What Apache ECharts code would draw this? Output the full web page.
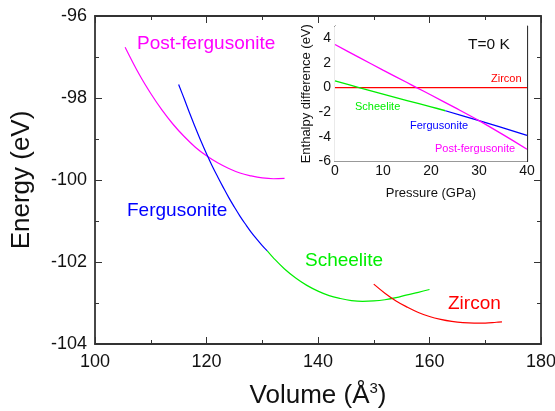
<!DOCTYPE html>
<html>
<head>
<meta charset="utf-8">
<script src="https://cdn.jsdelivr.net/npm/echarts@6/dist/echarts.min.js"></script>
<style>html,body{margin:0;padding:0;background:#fff}#c{width:555px;height:411px}</style>
</head>
<body>
<div id="c"></div>
<script>
// ---- main plot: E(V) curves ----
const postFergV = [105.4,108,110,112,114,116,118,120,122,124,126,128,130,132,134];
const postFergE = [-96.76,-97.44,-97.89,-98.29,-98.64,-98.94,-99.20,-99.41,-99.58,-99.72,-99.83,-99.90,-99.95,-99.97,-99.96];
const fergV = [115,116,117,118,119,120,121,122,123,124,125,126,127,128,129,130,130.9];
const fergE = [-97.67,-98.02,-98.38,-98.72,-99.05,-99.36,-99.65,-99.92,-100.18,-100.43,-100.66,-100.88,-101.08,-101.27,-101.44,-101.60,-101.73];
const schV = [130.9,132,134,136,138,140,142,144,146,148,150,152,154,156,158,160];
const schE = [-101.73,-101.90,-102.17,-102.39,-102.57,-102.71,-102.82,-102.89,-102.94,-102.96,-102.95,-102.92,-102.87,-102.80,-102.74,-102.67];
const zirV = [150,152,154,156,158,160,162,164,166,168,170,172,173];
const zirE = [-102.54,-102.76,-102.95,-103.10,-103.23,-103.33,-103.40,-103.45,-103.48,-103.49,-103.49,-103.47,-103.46];

// ---- inset: enthalpy difference vs pressure ----
const inZirP = [0,40];
const inZirH = [0,0];
const inPostP = [0,5,10,15,17,20,25,30,35,40];
const inPostH = [3.5,2.45,1.42,0.41,0,-0.6,-1.63,-2.68,-3.82,-5.0];
const inSchP = [0,5,10,15,20,23];
const inSchH = [0.54,0,-0.53,-1.05,-1.56,-1.88];
const inFergP = [23,30,40];
const inFergH = [-1.88,-2.68,-3.88];

const mainXTicks = [100,120,140,160,180];
const mainYTicks = [-104,-102,-100,-98,-96];
const insetXTicks = [0,10,20,30,40];
const insetYTicks = [-6,-4,-2,0,2,4];

const C = {mag:'#ff00ff', blue:'#0000ff', green:'#00ee00', red:'#ff0000'};
const FONT = 'Liberation Sans, Arial, sans-serif';
const zip = (a,b)=>a.map((v,i)=>[v,b[i]]);

const axisCommon = (fs, ml, mnl, lw) => ({
  axisLine:{show:true, onZero:false, lineStyle:{color:'#333', width:lw}},
  axisTick:{show:true, inside:true, length:ml, lineStyle:{color:'#333', width:1}},
  minorTick:{show:true, splitNumber:2, length:mnl, lineStyle:{color:'#333', width:1}},
  splitLine:{show:false},
  axisLabel:{color:'#111', fontSize:fs, fontFamily:FONT}
});

function ax(type, grid, min, max, interval, fs, ml, mnl, lw, pos, showLabel, extra){
  const a = Object.assign({type:'value', gridIndex:grid, min, max, interval, position:pos}, axisCommon(fs, ml, mnl, lw), extra||{});
  if(!showLabel) a.axisLabel = {show:false};
  return a;
}

const option = {
  animation:false,
  backgroundColor:'#fff',
  grid:[
    {left:95, right:14, top:16, bottom:67, outerBoundsMode:'none', containLabel:false},
    {left:335, right:28, top:26, bottom:249.5, outerBoundsMode:'none', containLabel:false, show:true, backgroundColor:'#fff', borderWidth:0, z:5}
  ],
  xAxis:[
    ax('x',0,mainXTicks[0],mainXTicks[mainXTicks.length-1],20,18,7,4,1.8,'bottom',true,{
      name:'Volume (Å{sup|3})', nameLocation:'middle', nameGap:37,
      nameTextStyle:{fontSize:26, fontFamily:FONT, color:'#111',
        rich:{sup:{fontSize:15, fontFamily:FONT, color:'#111', padding:[0,0,14,0]}}},
      axisLabel:{color:'#111', fontSize:18, fontFamily:FONT, margin:9}
    }),
    ax('x',0,mainXTicks[0],mainXTicks[mainXTicks.length-1],20,18,7,4,1.8,'top',false),
    ax('x',1,insetXTicks[0],insetXTicks[insetXTicks.length-1],10,14,5,3,1.2,'bottom',true,{
      name:'Pressure (GPa)', nameLocation:'middle', nameGap:25,
      nameTextStyle:{fontSize:13, fontFamily:FONT, color:'#111'},
      axisLabel:{color:'#111', fontSize:14, fontFamily:FONT, margin:3}
    }),
    ax('x',1,insetXTicks[0],insetXTicks[insetXTicks.length-1],10,14,5,3,1.2,'top',false)
  ],
  yAxis:[
    ax('y',0,mainYTicks[0],mainYTicks[mainYTicks.length-1],2,18,7,4,1.8,'left',true,{
      name:'Energy (eV)', nameLocation:'middle', nameGap:60,
      nameTextStyle:{fontSize:26, fontFamily:FONT, color:'#111'},
      axisLabel:{color:'#111', fontSize:18, fontFamily:FONT, margin:8}
    }),
    ax('y',0,mainYTicks[0],mainYTicks[mainYTicks.length-1],2,18,7,4,1.8,'right',false),
    ax('y',1,insetYTicks[0],5,2,14,5,3,1.2,'left',true,{
      name:'Enthalpy difference (eV)', nameLocation:'middle', nameGap:22,
      nameTextStyle:{fontSize:13, fontFamily:FONT, color:'#111'},
      axisLabel:{color:'#111', fontSize:14, fontFamily:FONT, margin:4,
        formatter:v=> insetYTicks.indexOf(v)>=0 ? String(v) : ''}
    }),
    ax('y',1,insetYTicks[0],5,2,14,5,3,1.2,'right',false)
  ],
  series:[
    {type:'line', xAxisIndex:0, yAxisIndex:0, data:zip(postFergV,postFergE), showSymbol:false, smooth:0.4, lineStyle:{color:C.mag, width:1.2}},
    {type:'line', xAxisIndex:0, yAxisIndex:0, data:zip(fergV,fergE), showSymbol:false, smooth:0.4, lineStyle:{color:C.blue, width:1.2}},
    {type:'line', xAxisIndex:0, yAxisIndex:0, data:zip(schV,schE), showSymbol:false, smooth:0.4, lineStyle:{color:C.green, width:1.2}},
    {type:'line', xAxisIndex:0, yAxisIndex:0, data:zip(zirV,zirE), showSymbol:false, smooth:0.4, lineStyle:{color:C.red, width:1.2}},
    {type:'line', xAxisIndex:2, yAxisIndex:2, data:zip(inZirP,inZirH), showSymbol:false, z:6, lineStyle:{color:C.red, width:1.3}},
    {type:'line', xAxisIndex:2, yAxisIndex:2, data:zip(inSchP,inSchH), showSymbol:false, smooth:0.3, z:6, lineStyle:{color:C.green, width:1.3}},
    {type:'line', xAxisIndex:2, yAxisIndex:2, data:zip(inFergP,inFergH), showSymbol:false, smooth:0.3, z:6, lineStyle:{color:C.blue, width:1.3}},
    {type:'line', xAxisIndex:2, yAxisIndex:2, data:zip(inPostP,inPostH), showSymbol:false, smooth:0.3, z:6, lineStyle:{color:C.mag, width:1.3}}
  ],
  graphic:[
    {type:'text', left:137, top:34, z:10, style:{text:'Post-fergusonite', fill:C.mag, font:'19px '+FONT}},
    {type:'text', left:127, top:201, z:10, style:{text:'Fergusonite', fill:C.blue, font:'19px '+FONT}},
    {type:'text', left:305, top:251, z:10, style:{text:'Scheelite', fill:C.green, font:'19px '+FONT}},
    {type:'text', left:448, top:294, z:10, style:{text:'Zircon', fill:C.red, font:'19px '+FONT}},
    {type:'text', left:468, top:37, z:10, style:{text:'T=0 K', fill:'#111', font:'15.5px '+FONT}},
    {type:'text', left:491, top:73, z:10, style:{text:'Zircon', fill:C.red, font:'11px '+FONT}},
    {type:'text', left:355, top:101, z:10, style:{text:'Scheelite', fill:C.green, font:'11px '+FONT}},
    {type:'text', left:410, top:120, z:10, style:{text:'Fergusonite', fill:C.blue, font:'11px '+FONT}},
    {type:'text', left:435, top:143, z:10, style:{text:'Post-fergusonite', fill:C.mag, font:'11px '+FONT}}
  ]
};
const chart = echarts.init(document.getElementById('c'), null, {renderer:'canvas'});
chart.setOption(option);
</script>
</body>
</html>
